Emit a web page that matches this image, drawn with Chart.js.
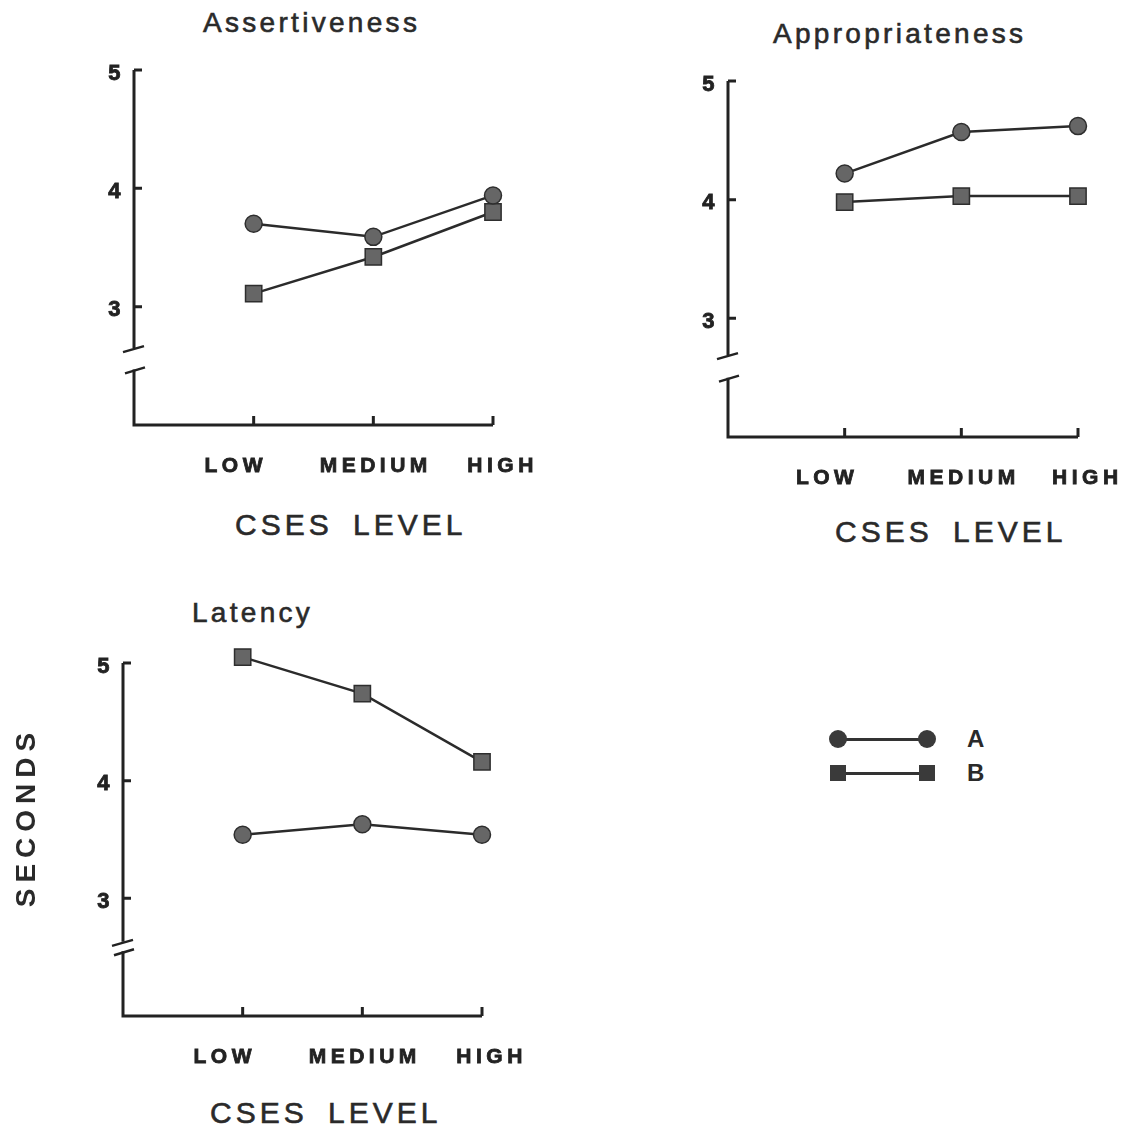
<!DOCTYPE html>
<html><head><meta charset="utf-8">
<script src="https://cdn.jsdelivr.net/npm/chart.js@4.4.1/dist/chart.umd.min.js"></script>
<style>
html,body{margin:0;padding:0;background:#fff;}
body{width:1129px;height:1134px;position:relative;overflow:hidden;font-family:"Liberation Sans",Arial,sans-serif;color:#2a2a2a;}
.t{position:absolute;white-space:nowrap;line-height:1;}
.title{font-size:28px;letter-spacing:3.3px;-webkit-text-stroke:0.6px #2a2a2a;}
.xt{font-size:30px;letter-spacing:4px;word-spacing:8px;-webkit-text-stroke:0.6px #2a2a2a;}
.yt{font-size:28px;font-weight:bold;letter-spacing:6px;width:220px;text-align:center;transform:rotate(-90deg);}
.leg{font-size:24px;font-weight:bold;}
.box{position:absolute;}
canvas{position:absolute;}
</style></head><body>
<script>
// ---- data ----
const categories = ['LOW', 'MEDIUM', 'HIGH'];
const yTicks = [3, 4, 5];
const seriesNames = ['A', 'B'];
const panelTitles = ['Assertiveness', 'Appropriateness', 'Latency'];
const xAxisTitle = 'CSES LEVEL';
const yAxisTitle = 'SECONDS';
const assertA = [3.70, 3.59, 3.94];
const assertB = [3.11, 3.42, 3.80];
const approA  = [4.22, 4.57, 4.62];
const approB  = [3.98, 4.03, 4.03];
const latA    = [3.54, 3.63, 3.54];
const latB    = [5.05, 4.74, 4.16];

// ---- style / layout ----
const FONT = "'Liberation Sans', Arial, sans-serif";
const xLabelNudge = [-0.15, 0.02, 0.08];
const yLabelNudge = -0.03;
const panels = [
  {box:{l:0,t:50,w:580,h:460}, pad:{left:74,top:20,right:87,bottom:25}, brk:[2.65,2.47],
   title:{l:203,t:9}, xt:{l:235,t:510}, a:assertA, b:assertB},
  {box:{l:620,t:60,w:509,h:460}, pad:{left:48,top:21,right:51,bottom:23}, brk:[2.69,2.50],
   title:{l:773,t:20}, xt:{l:835,t:517}, a:approA, b:approB},
  {box:{l:0,t:630,w:560,h:470}, pad:{left:63,top:33,right:78,bottom:24}, brk:[2.63,2.55],
   title:{l:192,t:599}, xt:{l:210,t:1098}, a:latA, b:latB}
];

const axisPlugin = {
  id: 'brokenAxes',
  beforeDraw(chart){ chart.ctx.letterSpacing = '4.5px'; },
  beforeDatasetsDraw(chart, args, opts){
    const ctx = chart.ctx, x = chart.scales.x, y = chart.scales.y;
    const x0 = x.getPixelForValue(x.min), x3 = x.getPixelForValue(x.max);
    const yTop = y.getPixelForValue(y.max), yBot = y.getPixelForValue(y.min);
    const yHi = y.getPixelForValue(opts.breakHi), yLo = y.getPixelForValue(opts.breakLo);
    ctx.save();
    ctx.strokeStyle = '#222'; ctx.lineWidth = 3; ctx.lineCap = 'butt'; ctx.lineJoin = 'miter';
    ctx.beginPath();
    ctx.moveTo(x0, yTop); ctx.lineTo(x0, yHi);
    ctx.moveTo(x0, yLo); ctx.lineTo(x0, yBot); ctx.lineTo(x3, yBot);
    yTicks.forEach(v => { const p = y.getPixelForValue(v); ctx.moveTo(x0, p); ctx.lineTo(x0 + 8, p); });
    categories.forEach((c, i) => { const p = x.getPixelForValue(i + 1); ctx.moveTo(p, yBot); ctx.lineTo(p, yBot - 9); });
    ctx.stroke();
    ctx.lineWidth = 2.5;
    ctx.beginPath();
    ctx.moveTo(x0 - 11, yHi + 4); ctx.lineTo(x0 + 10, yHi - 2);
    ctx.moveTo(x0 - 9, yLo + 4); ctx.lineTo(x0 + 11, yLo - 2);
    ctx.stroke();
    ctx.restore();
  }
};

function addText(cls, txt, l, t){
  const d = document.createElement('div');
  d.className = 't ' + cls; d.textContent = txt;
  d.style.left = l + 'px'; d.style.top = t + 'px';
  document.body.appendChild(d); return d;
}

function ds(name, vals, style, radius){
  return {
    label: name,
    data: vals.map((v, i) => ({x: i + 1, y: v})),
    borderColor: '#2b2b2b', borderWidth: 2.5, tension: 0, fill: false,
    pointStyle: style, pointRadius: radius, pointHoverRadius: radius,
    pointBackgroundColor: '#666666', pointBorderColor: '#2e2e2e', pointBorderWidth: 1.5,
    clip: false
  };
}

panels.forEach((p, k) => {
  addText('title', panelTitles[k], p.title.l, p.title.t);
  addText('xt', xAxisTitle, p.xt.l, p.xt.t);
  const cv = document.createElement('canvas');
  cv.width = p.box.w; cv.height = p.box.h;
  cv.style.left = p.box.l + 'px'; cv.style.top = p.box.t + 'px';
  cv.style.width = p.box.w + 'px'; cv.style.height = p.box.h + 'px';
  document.body.appendChild(cv);
  new Chart(cv, {
    type: 'line',
    data: {datasets: [ds(seriesNames[0], p.a, 'circle', 8.5), ds(seriesNames[1], p.b, 'rect', 11.5)]},
    options: {
      responsive: false, animation: false, events: [],
      layout: {padding: p.pad},
      plugins: {legend: {display: false}, tooltip: {enabled: false},
                brokenAxes: {breakHi: p.brk[0], breakLo: p.brk[1]}},
      scales: {
        x: {type: 'linear', min: 0, max: 3,
            grid: {display: false, drawTicks: false}, border: {display: false},
            ticks: {autoSkip: false, maxRotation: 0, minRotation: 0, padding: 29, color: '#222',
                    textStrokeColor: '#222', textStrokeWidth: 0.8,
                    font: {family: FONT, size: 21, weight: 'bold'},
                    callback: (v, i) => categories[i]},
            afterBuildTicks: s => { s.ticks = categories.map((c, i) => ({value: i + 1 + xLabelNudge[i]})); },
            afterFit: s => { s.height = 60; s.paddingLeft = 0; s.paddingRight = 0; }},
        y: {type: 'linear', min: 2, max: 5,
            grid: {display: false, drawTicks: false}, border: {display: false},
            ticks: {padding: 9, color: '#222', textStrokeColor: '#222', textStrokeWidth: 0.8,
                    font: {family: FONT, size: 22, weight: 'bold'},
                    callback: (v, i) => String(yTicks[i])},
            afterBuildTicks: s => { s.ticks = yTicks.map(v => ({value: v + yLabelNudge})); },
            afterFit: s => { s.width = 60; s.paddingTop = 0; s.paddingBottom = 0; }}
      }
    },
    plugins: [axisPlugin]
  });
});

// y axis title
addText('yt', yAxisTitle, 26 - 110, 817 - 14);

// legend
function el(css){ const d = document.createElement('div'); d.className = 'box'; Object.assign(d.style, css); document.body.appendChild(d); return d; }
[[739, 'circle'], [773, 'rect']].forEach((r, i) => {
  el({left: '838px', top: (r[0] - 1) + 'px', width: '90px', height: '2.5px', background: '#333'});
  [838, 927].forEach(cx => {
    if (r[1] === 'circle') el({left: (cx - 9) + 'px', top: (r[0] - 9) + 'px', width: '18px', height: '18px', borderRadius: '50%', background: '#3a3a3a'});
    else el({left: (cx - 8) + 'px', top: (r[0] - 8) + 'px', width: '16px', height: '16px', background: '#3a3a3a'});
  });
  addText('leg', seriesNames[i], 967, r[0] - 9 - 0.8465 * 24 + 17);
});
</script>
</body></html>
